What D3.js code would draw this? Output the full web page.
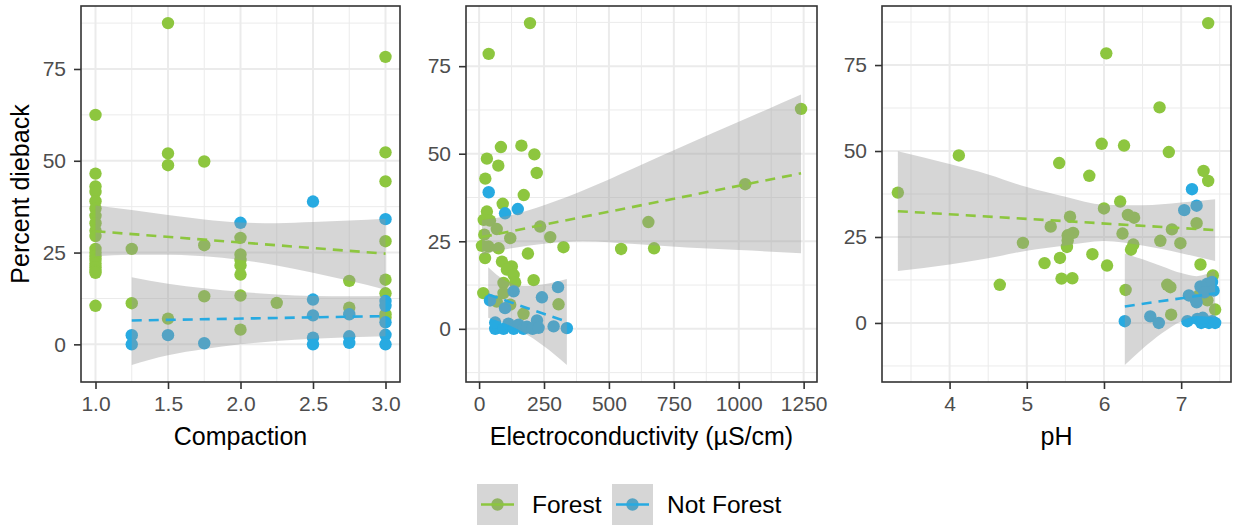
<!DOCTYPE html>
<html><head><meta charset="utf-8">
<script src="https://cdn.jsdelivr.net/npm/d3@7"></script>
<style>body{margin:0;background:#fff;}svg{display:block;font-family:"Liberation Sans",Arial,sans-serif;}</style>
</head><body>
<svg id="chart" width="1235" height="527"></svg>
<script>
// ---------- DATA ----------
const groups = ["Forest", "Not Forest"];
const groupColors = ["#8dc63f", "#27aae1"];
const yTicks = [0, 25, 50, 75];
const yMinor = [-12.5, 12.5, 37.5, 62.5, 87.5];
const yTitle = "Percent dieback";

// Panel 1: Compaction
const compactionTitle = "Compaction";
const compactionTicks = [1.0, 1.5, 2.0, 2.5, 3.0];
const compactionMinor = [1.25, 1.75, 2.25, 2.75];
const compactionForest = [
  [1,62.5],[1,46.5],[1,43],[1,41.5],[1,39],[1,37],[1,35],[1,33],[1,31],[1,29.5],[1,26],[1,25],[1,24],[1,23],[1,22],[1,21],[1,20],[1,19.5],[1,10.5],
  [1.25,26],[1.25,11.2],
  [1.5,87.5],[1.5,52],[1.5,48.8],[1.5,7],
  [1.75,49.8],[1.75,27],[1.75,13.1],
  [2,29],[2,24.5],[2,23],[2,21.5],[2,19],[2,13.3],[2,4],
  [2.25,11.3],
  [2.75,17.3],[2.75,10],
  [3,78.3],[3,52.3],[3,44.4],[3,28.1],[3,17.6],[3,13.9],[3,8.2],[3,7.3]
];
const compactionNotForest = [
  [1.25,2.5],[1.25,0],[1.5,2.5],[1.75,0.3],[2,33.1],
  [2.5,38.9],[2.5,12.2],[2.5,7.9],[2.5,1.8],[2.5,0],
  [2.75,8.2],[2.75,2.2],[2.75,0.4],
  [3,34.1],[3,11.8],[3,10.5],[3,6],[3,2.6],[3,0]
];
const compactionForestFit = [[1,30.8],[3,24.7]];
const compactionForestBand = [[1,24.0,37.8],[1.25,24.4,36.6],[1.5,24.4,35.2],[1.75,24.0,34.0],[2,23.0,33.2],[2.25,21.5,33.0],[2.5,19.5,33.3],[2.75,17.3,33.7],[3,14.9,34.2]];
const compactionNotForestFit = [[1.25,6.5],[3,7.7]];
const compactionNotForestBand = [[1.25,-5.6,18.3],[1.5,-3.0,16.5],[1.75,-1.3,15.3],[2,0,14.3],[2.25,0.9,13.6],[2.5,1.5,13.2],[2.75,1.9,13.1],[3,2.2,13.2]];

// Panel 2: Electroconductivity
const ecTitle = "Electroconductivity (\u00b5S/cm)";
const ecTicks = [0, 250, 500, 750, 1000, 1250];
const ecMinor = [125, 375, 625, 875, 1125];
const ecForest = [
  [196,87.3],[37,78.5],[163,52.3],[84,51.9],[213,49.8],[30,48.6],[74,46.6],[222,44.5],[24,42.9],[172,38.2],
  [91,35.7],[30,33.5],[18,31.1],[42,30.9],[68,28.5],[235,29.2],[274,26.2],[120,25.9],[20,26.9],[11,23.7],
  [36,23.5],[75,23.0],[325,23.3],[188,21.5],[23,20.2],[88,19.2],[126,17.8],[107,16.9],[133,15.4],[210,13.9],
  [94,13.1],[139,13.2],[16,10.2],[94,10.2],[68,7.8],[120,6.9],[306,7.0],[171,4.3],
  [547,22.8],[674,23.0],[652,30.5],[1025,41.3],[1240,62.8]
];
const ecNotForest = [
  [37,39],[100,33],[149,34.2],[133,10.7],[42,8.1],[100,5.9],[242,9.0],[304,11.9],[223,2.4],[287,0.7],[338,0.2],
  [62,0],[62,1.8],[94,0],[113,1.5],[133,0],[152,1.2],[171,0],[184,0.6],[206,0],[229,0.3]
];
const ecForestFit = [[11,26.2],[1240,44.4]];
const ecForestBand = [[11,21.2,31.0],[125,23.0,32.5],[250,24.3,35.3],[400,25.0,39.5],[600,24.2,46.0],[800,23.2,52.6],[1000,22.5,59.1],[1240,21.6,66.9]];
const ecNotForestFit = [[35,9.8],[338,2.0]];
const ecNotForestBand = [[35,3.2,17.6],[100,1.5,13.8],[170,-1.0,12.2],[250,-5.0,12.7],[338,-10.3,14.2]];

// Panel 3: pH
const phTitle = "pH";
const phTicks = [4, 5, 6, 7];
const phMinor = [3.5, 4.5, 5.5, 6.5, 7.5];
const phForest = [
  [7.35,87.2],[6.03,78.4],[6.72,62.7],[5.97,52.1],[6.26,51.6],[6.84,49.7],[4.12,48.7],[5.42,46.5],[7.29,44.2],[7.35,41.3],
  [5.81,42.8],[3.33,37.9],[6.21,35.3],[6.0,33.3],[6.31,31.4],[6.39,30.6],[5.56,30.9],[5.31,28.0],[6.88,27.2],[7.20,29.0],
  [6.24,26.0],[5.60,26.2],[5.53,25.5],[5.53,24.0],[4.95,23.3],[6.73,23.9],[6.99,23.2],[6.38,22.8],[6.35,21.3],[5.52,22.1],
  [5.85,20.0],[5.23,17.4],[5.43,18.9],[6.04,16.7],[7.25,17.0],[5.45,12.9],[5.59,13.0],[4.65,11.1],[6.28,9.6],[6.82,11.1],
  [6.86,10.4],[7.41,13.8],[7.23,8.0],[7.34,6.6],[7.44,3.9],[6.87,2.4]
];
const phNotForest = [
  [7.14,38.9],[7.20,34.1],[7.04,32.8],[6.27,0.5],[6.60,1.9],[6.71,0],[7.08,0.5],[7.10,8.0],[7.20,6.0],[7.25,10.6],
  [7.34,11.4],[7.40,11.9],[7.42,9.4],[7.30,8.9],[7.19,6.7],[7.21,1.2],[7.26,0],[7.31,0.3],[7.36,0],[7.40,0.5],[7.44,0],[7.28,1.5]
];
const phForestFit = [[3.33,32.5],[7.44,27.0]];
const phForestBand = [[3.33,15.1,49.9],[4.0,17.0,46.2],[4.5,18.8,43.2],[5.0,21.0,39.5],[5.5,22.5,36.7],[6.0,23.8,34.4],[6.5,22.5,34.2],[7.0,20.3,35.0],[7.44,18.0,36.0]];
const phNotForestFit = [[6.27,4.8],[7.44,8.6]];
const phNotForestBand = [[6.27,-12.2,20.2],[6.5,-7.5,18.5],[6.75,-3.0,16.5],[7.0,0.5,14.5],[7.2,2.0,13.6],[7.44,1.5,15.3]];

// ---------- LAYOUT ----------
const panelDefs = [
  {title: compactionTitle, ticks: compactionTicks, minor: compactionMinor, fmt: d3.format(".1f"),
   pts: [compactionForest, compactionNotForest], fit: [compactionForestFit, compactionNotForestFit], band: [compactionForestBand, compactionNotForestBand], x0: 81, x1: 400},
  {title: ecTitle, ticks: ecTicks, minor: ecMinor, fmt: d3.format("d"),
   pts: [ecForest, ecNotForest], fit: [ecForestFit, ecNotForestFit], band: [ecForestBand, ecNotForestBand], x0: 466, x1: 817},
  {title: phTitle, ticks: phTicks, minor: phMinor, fmt: d3.format("d"),
   pts: [phForest, phNotForest], fit: [phForestFit, phNotForestFit], band: [phForestBand, phNotForestBand], x0: 882, x1: 1231}
];
const plotTop = 6, plotBottom = 382;
const svg = d3.select("#chart");
const ribbonFill = "#999999", ribbonOpacity = 0.4;
const titleSize = "25px", tickSize = "21px";

function expand(ext, f = 0.05) { const r = ext[1] - ext[0]; return [ext[0] - f * r, ext[1] + f * r]; }

panelDefs.forEach((p, pi) => {
  const allX = [], allY = [];
  p.pts.forEach(arr => arr.forEach(d => { allX.push(d[0]); allY.push(d[1]); }));
  p.band.forEach(arr => arr.forEach(d => { allY.push(d[1]); allY.push(d[2]); }));
  const x = d3.scaleLinear().domain(expand(d3.extent(allX))).range([p.x0, p.x1]);
  const y = d3.scaleLinear().domain(expand(d3.extent(allY))).range([plotBottom, plotTop]);
  const g = svg.append("g");
  g.append("rect").attr("x", p.x0).attr("y", plotTop).attr("width", p.x1 - p.x0).attr("height", plotBottom - plotTop).attr("fill", "#fff");
  const yd = y.domain(), xd = x.domain();
  g.selectAll(".ymin").data(yMinor.filter(v => v > yd[0] && v < yd[1])).enter().append("line")
    .attr("x1", p.x0).attr("x2", p.x1).attr("y1", d => y(d)).attr("y2", d => y(d)).attr("stroke", "#ebebeb").attr("stroke-width", 1);
  g.selectAll(".xmin").data(p.minor.filter(v => v > xd[0] && v < xd[1])).enter().append("line")
    .attr("y1", plotTop).attr("y2", plotBottom).attr("x1", d => x(d)).attr("x2", d => x(d)).attr("stroke", "#ebebeb").attr("stroke-width", 1);
  g.selectAll(".ymaj").data(yTicks).enter().append("line")
    .attr("x1", p.x0).attr("x2", p.x1).attr("y1", d => y(d)).attr("y2", d => y(d)).attr("stroke", "#ebebeb").attr("stroke-width", 2);
  g.selectAll(".xmaj").data(p.ticks).enter().append("line")
    .attr("y1", plotTop).attr("y2", plotBottom).attr("x1", d => x(d)).attr("x2", d => x(d)).attr("stroke", "#ebebeb").attr("stroke-width", 2);

  p.pts.forEach((arr, gi) => {
    g.append("g").selectAll("circle").data(arr).enter().append("circle")
      .attr("cx", d => x(d[0])).attr("cy", d => y(d[1])).attr("r", 6.2).attr("fill", groupColors[gi]);
  });
  p.band.forEach((arr, gi) => {
    const area = d3.area().x(d => x(d[0])).y0(d => y(d[1])).y1(d => y(d[2])).curve(d3.curveMonotoneX);
    g.append("path").datum(arr).attr("d", area).attr("fill", ribbonFill).attr("fill-opacity", ribbonOpacity);
  });
  p.fit.forEach((arr, gi) => {
    const line = d3.line().x(d => x(d[0])).y(d => y(d[1]));
    g.append("path").datum(arr).attr("d", line).attr("fill", "none").attr("stroke", groupColors[gi])
      .attr("stroke-width", 2.6).attr("stroke-dasharray", "10,7");
  });
  g.append("rect").attr("x", p.x0).attr("y", plotTop).attr("width", p.x1 - p.x0).attr("height", plotBottom - plotTop)
    .attr("fill", "none").attr("stroke", "#333333").attr("stroke-width", 1.6);
  const xAxis = d3.axisBottom(x).tickValues(p.ticks).tickFormat(p.fmt).tickSize(7).tickPadding(7);
  const ax = g.append("g").attr("transform", `translate(0,${plotBottom})`).call(xAxis);
  const yAxis = d3.axisLeft(y).tickValues(yTicks).tickSize(7).tickPadding(8);
  const ay = g.append("g").attr("transform", `translate(${p.x0},0)`).call(yAxis);
  [ax, ay].forEach(a => {
    a.select(".domain").remove();
    a.selectAll(".tick line").attr("stroke", "#333333").attr("stroke-width", 1.6);
    a.selectAll(".tick text").attr("fill", "#4d4d4d").style("font-size", tickSize).style("font-family", "'Liberation Sans', Arial, sans-serif");
  });
  g.append("text").attr("x", (p.x0 + p.x1) / 2).attr("y", 445).attr("text-anchor", "middle")
    .style("font-size", titleSize).attr("fill", "#000").text(p.title);
});

svg.append("text").attr("transform", `translate(29,${(plotTop + plotBottom) / 2}) rotate(-90)`).attr("text-anchor", "middle")
  .style("font-size", titleSize).attr("fill", "#000").text(yTitle);

const legendKeys = [{x: 477, label: groups[0]}, {x: 612, label: groups[1]}];
const lg = svg.append("g");
legendKeys.forEach((k, i) => {
  const ky = 484, ks = 41;
  lg.append("rect").attr("x", k.x).attr("y", ky).attr("width", ks).attr("height", ks).attr("fill", "#fff");
  lg.append("circle").attr("cx", k.x + ks / 2).attr("cy", ky + ks / 2).attr("r", 6.2).attr("fill", groupColors[i]);
  lg.append("rect").attr("x", k.x).attr("y", ky).attr("width", ks).attr("height", ks).attr("fill", ribbonFill).attr("fill-opacity", ribbonOpacity);
  lg.append("line").attr("x1", k.x + 4).attr("x2", k.x + ks - 4).attr("y1", ky + ks / 2).attr("y2", ky + ks / 2)
    .attr("stroke", groupColors[i]).attr("stroke-width", 2.6);
  lg.append("text").attr("x", k.x + ks + 14).attr("y", ky + ks / 2 + 8.5).style("font-size", "24.5px").attr("fill", "#000").text(k.label);
});
</script>
</body></html>
